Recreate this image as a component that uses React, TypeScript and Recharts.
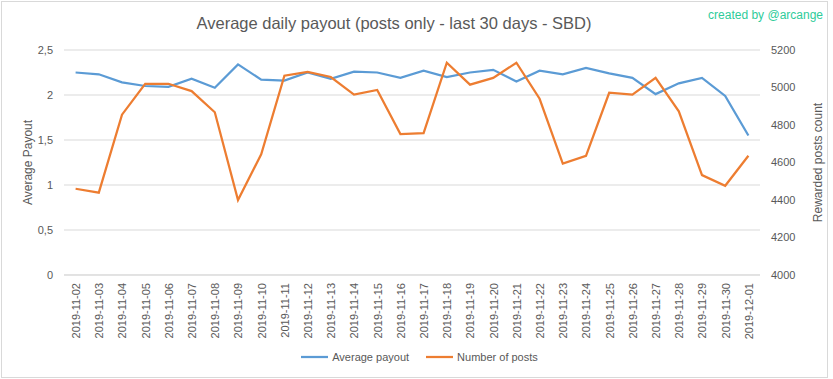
import React from "react";
import { LineChart, Line, XAxis, YAxis, CartesianGrid, Legend, Label } from "recharts";

const dates = [
  "2019-11-02", "2019-11-03", "2019-11-04", "2019-11-05", "2019-11-06",
  "2019-11-07", "2019-11-08", "2019-11-09", "2019-11-10", "2019-11-11",
  "2019-11-12", "2019-11-13", "2019-11-14", "2019-11-15", "2019-11-16",
  "2019-11-17", "2019-11-18", "2019-11-19", "2019-11-20", "2019-11-21",
  "2019-11-22", "2019-11-23", "2019-11-24", "2019-11-25", "2019-11-26",
  "2019-11-27", "2019-11-28", "2019-11-29", "2019-11-30", "2019-12-01",
];

const avgPayout = [
  2.25, 2.23, 2.14, 2.1, 2.09, 2.18, 2.08, 2.34, 2.17, 2.16,
  2.25, 2.18, 2.26, 2.25, 2.19, 2.27, 2.2, 2.25, 2.28, 2.15,
  2.27, 2.23, 2.3, 2.24, 2.19, 2.01, 2.13, 2.19, 1.99, 1.55,
];

const postCounts = [
  4460, 4439, 4855, 5020, 5020, 4981, 4868, 4400, 4644, 5063,
  5083, 5056, 4962, 4987, 4752, 4757, 5132, 5015, 5051, 5132,
  4940, 4594, 4635, 4972, 4962, 5052, 4873, 4533, 4476, 4636,
];

const payoutTicks = [0, 0.5, 1, 1.5, 2, 2.5];
const postTicks = [4000, 4200, 4400, 4600, 4800, 5000, 5200];

const BLUE = "#5b9bd5";
const ORANGE = "#ed7d31";
const TEXT = "#595959";
const GRID = "#d9d9d9";
const FONT = "'Liberation Sans', Arial, sans-serif";

const data = dates.map((d, i) => ({
  date: d,
  payout: avgPayout[i],
  posts: postCounts[i],
}));

const DateTick = ({ x, y, payload }: any) => (
  <text
    x={x}
    y={y}
    dy="0.4em"
    transform={`rotate(-90, ${x}, ${y})`}
    textAnchor="end"
    fill={TEXT}
    fontSize={11}
    fontFamily={FONT}
  >
    {payload.value}
  </text>
);

const LegendContent = () => (
  <div
    style={{
      display: "flex",
      justifyContent: "center",
      gap: 17,
      fontSize: 11,
      color: TEXT,
      fontFamily: FONT,
      paddingLeft: 6,
    }}
  >
    {[
      ["Average payout", BLUE],
      ["Number of posts", ORANGE],
    ].map(([name, color]) => (
      <div key={name} style={{ display: "flex", alignItems: "center" }}>
        <svg width={27} height={10} style={{ marginRight: 4 }}>
          <line x1={0} y1={5} x2={27} y2={5} stroke={color} strokeWidth={2.25} />
        </svg>
        <span>{name}</span>
      </div>
    ))}
  </div>
);

const axisTitle = (value: string, dx: number) => ({ viewBox }: any) => {
  const cx = viewBox.x + dx;
  const cy = viewBox.y + viewBox.height / 2;
  return (
    <text
      x={cx}
      y={cy}
      transform={`rotate(-90, ${cx}, ${cy})`}
      textAnchor="middle"
      dominantBaseline="central"
      fill={TEXT}
      fontSize={12}
      fontFamily={FONT}
    >
      {value}
    </text>
  );
};

export default function App() {
  return (
    <div
      style={{
        position: "absolute",
        left: 0,
        top: 0,
        width: 833,
        height: 379,
        background: "#fff",
        fontFamily: FONT,
      }}
    >
      <div
        style={{
          position: "absolute",
          left: 1,
          top: 1,
          width: 825,
          height: 375,
          border: `1px solid ${GRID}`,
        }}
      />
      <LineChart
        width={833}
        height={379}
        data={data}
        margin={{ top: 50, right: 0, bottom: 0, left: 0 }}
      >
        <CartesianGrid yAxisId="left" vertical={false} stroke={GRID} strokeWidth={1} />
        <XAxis
          dataKey="date"
          interval={0}
          height={104}
          tick={<DateTick />}
          tickLine={false}
          tickSize={0}
          tickMargin={8}
          axisLine={{ stroke: GRID }}
          padding={{ left: 11.6, right: 11.6 }}
        />
        <YAxis
          yAxisId="left"
          width={64}
          domain={[0, 2.5]}
          ticks={payoutTicks}
          tickFormatter={(v: number) => String(v).replace(".", ",")}
          axisLine={false}
          tickLine={false}
          tickSize={0}
          tickMargin={11}
          tick={{ fill: TEXT, fontSize: 11, fontFamily: FONT }}
        >
          <Label content={axisTitle("Average Payout", 27.5)} />
        </YAxis>
        <YAxis
          yAxisId="right"
          orientation="right"
          width={73}
          domain={[4000, 5200]}
          ticks={postTicks}
          axisLine={false}
          tickLine={false}
          tickSize={0}
          tickMargin={11}
          tick={{ fill: TEXT, fontSize: 11, fontFamily: FONT, textAnchor: "start" }}
        >
          <Label content={axisTitle("Rewarded posts count", 58)} />
        </YAxis>
        <Legend
          verticalAlign="middle"
          align="center"
          content={<LegendContent />}
          wrapperStyle={{ top: 351, left: 0, width: 833 }}
        />
        <Line
          yAxisId="left"
          type="linear"
          dataKey="payout"
          name="Average payout"
          stroke={BLUE}
          strokeWidth={2.25}
          dot={false}
          isAnimationActive={false}
        />
        <Line
          yAxisId="right"
          type="linear"
          dataKey="posts"
          name="Number of posts"
          stroke={ORANGE}
          strokeWidth={2.25}
          dot={false}
          isAnimationActive={false}
        />
      </LineChart>
      <svg
        width={833}
        height={40}
        style={{ position: "absolute", left: 0, top: 0, pointerEvents: "none" }}
      >
        <text x={394} y={29} textAnchor="middle" fill={TEXT} fontSize={16.5} fontFamily={FONT}>
          Average daily payout (posts only - last 30 days - SBD)
        </text>
        <text x={823} y={18.5} textAnchor="end" fill="#2ecc9a" fontSize={12} fontFamily={FONT}>
          created by @arcange
        </text>
      </svg>
    </div>
  );
}
